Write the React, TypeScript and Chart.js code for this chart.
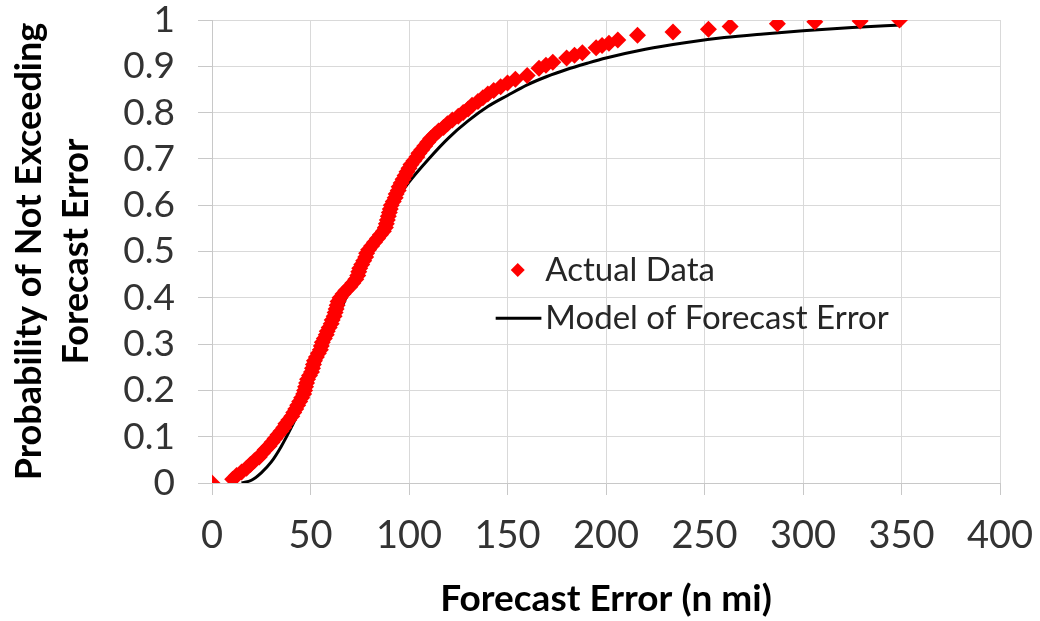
import { useEffect, useRef } from "react";
import { Chart, registerables } from "chart.js";

Chart.register(...registerables);

const actualX = [
  0, 10.5, 12.5, 15, 17.5, 19.5, 21.5, 24, 25.5, 27, 29, 30.5, 32, 33.5, 35, 36.5, 37.5, 39, 40.5, 41.5,
  42.5, 43.5, 44.5, 45.5, 46.5, 47, 47.5, 48, 48.5, 49.5, 50.5, 51, 51.5, 52, 53, 54, 55, 55.5, 56, 57,
  58, 58.5, 59.5, 60.5, 61, 62, 62.5, 63, 63.5, 64, 65, 66.5, 68, 70, 71.5, 73, 74, 74.5, 75, 76,
  77, 78, 78.5, 79.5, 81, 82.5, 84, 85.5, 87, 88, 88.5, 89, 89.5, 90, 90.5, 91, 92, 93, 93.5, 94.5,
  95, 96, 97, 98, 99, 100, 101, 102.5, 104, 105, 106.5, 108, 109.5, 111, 113, 115, 117.5, 119.5, 122, 125,
  127.5, 130, 132, 135, 137.5, 140, 143, 146.5, 150, 154, 160, 166, 169.5, 173, 180, 184, 188, 195, 198, 201.5,
  206, 216, 234, 252, 263, 287, 306, 329, 349,
];
const actualY = [
  0, 0.008, 0.016, 0.024, 0.032, 0.04, 0.048, 0.056, 0.064, 0.072, 0.08, 0.088, 0.096, 0.104, 0.112, 0.12, 0.128, 0.136, 0.144, 0.152,
  0.16, 0.168, 0.176, 0.184, 0.192, 0.2, 0.208, 0.216, 0.224, 0.232, 0.24, 0.248, 0.256, 0.264, 0.272, 0.28, 0.288, 0.296, 0.304, 0.312,
  0.32, 0.328, 0.336, 0.344, 0.352, 0.36, 0.368, 0.376, 0.384, 0.392, 0.4, 0.408, 0.416, 0.424, 0.432, 0.44, 0.448, 0.456, 0.464, 0.472,
  0.48, 0.488, 0.496, 0.504, 0.512, 0.52, 0.528, 0.536, 0.544, 0.552, 0.56, 0.568, 0.576, 0.584, 0.592, 0.6, 0.608, 0.616, 0.624, 0.632,
  0.64, 0.648, 0.656, 0.664, 0.672, 0.68, 0.688, 0.696, 0.704, 0.712, 0.72, 0.728, 0.736, 0.744, 0.752, 0.76, 0.768, 0.776, 0.784, 0.792,
  0.8, 0.808, 0.816, 0.824, 0.832, 0.84, 0.848, 0.856, 0.864, 0.872, 0.88, 0.896, 0.902, 0.909, 0.918, 0.924, 0.929, 0.94, 0.945, 0.95,
  0.957, 0.967, 0.974, 0.98, 0.986, 0.992, 0.996, 0.998, 1.0,
];

// Model of Forecast Error
const modelX = [15, 20, 25, 30, 35, 40, 45, 50, 55, 60, 65, 70, 75, 80, 85, 90, 95, 100, 110, 120, 130, 140, 150, 160, 170, 180, 190, 200, 220, 240, 260, 280, 300, 325, 350];
const modelY = [0, 0.006, 0.022, 0.045, 0.078, 0.118, 0.163, 0.212, 0.265, 0.318, 0.37, 0.42, 0.466, 0.51, 0.55, 0.587, 0.62, 0.65, 0.7, 0.745, 0.782, 0.813, 0.837, 0.86, 0.878, 0.893, 0.906, 0.918, 0.937, 0.951, 0.962, 0.97, 0.977, 0.984, 0.989];

const seriesNames = ["Actual Data", "Model of Forecast Error"];
const xTitle = "Forecast Error (n mi)";
const yTitle = ["Probability of Not Exceeding", "Forecast Error"];

const FONT = "Lato, 'Open Sans', sans-serif";
const RED = "#ff0000";
const TEXT = "#333333";

export default function App() {
  const ref = useRef<HTMLCanvasElement>(null);

  useEffect(() => {
    const legendPlugin = {
      id: "insideLegend",
      afterDraw(chart: any) {
        const { ctx, chartArea } = chart;
        const w = chartArea.right - chartArea.left;
        const h = chartArea.bottom - chartArea.top;
        const row1 = chartArea.top + 0.54 * h;
        const row2 = chartArea.top + 0.644 * h;
        const textX = chartArea.left + 0.423 * w;
        ctx.save();
        const mx = chartArea.left + 0.388 * w;
        const r = 7;
        ctx.fillStyle = RED;
        ctx.beginPath();
        ctx.moveTo(mx, row1 - r);
        ctx.lineTo(mx + r, row1);
        ctx.lineTo(mx, row1 + r);
        ctx.lineTo(mx - r, row1);
        ctx.closePath();
        ctx.fill();
        ctx.strokeStyle = "#000";
        ctx.lineWidth = 3;
        ctx.beginPath();
        ctx.moveTo(chartArea.left + 0.36 * w, row2);
        ctx.lineTo(chartArea.left + 0.418 * w, row2);
        ctx.stroke();
        ctx.fillStyle = "#262626";
        ctx.font = `33px ${FONT}`;
        ctx.textBaseline = "middle";
        ctx.textAlign = "left";
        ctx.fillText(seriesNames[0], textX, row1);
        ctx.fillText(seriesNames[1], textX, row2);
        ctx.restore();
      },
    };

    const chart = new Chart(ref.current!, {
      type: "scatter",
      data: {
        datasets: [
          {
            label: seriesNames[0],
            data: actualX.map((x, i) => ({ x, y: actualY[i] })),
            pointStyle: "rectRot",
            pointRadius: 8.5,
            pointBackgroundColor: RED,
            pointBorderWidth: 0,
            borderColor: RED,
            showLine: false,
          },
          {
            label: seriesNames[1],
            data: modelX.map((x, i) => ({ x, y: modelY[i] })),
            showLine: true,
            borderColor: "#000",
            borderWidth: 3,
            pointRadius: 0,
            cubicInterpolationMode: "monotone",
          },
        ],
      },
      options: {
        responsive: true,
        maintainAspectRatio: false,
        animation: false,
        layout: { padding: { top: 20, right: 40, left: 0, bottom: 0 } },
        plugins: { legend: { display: false }, tooltip: { enabled: false } },
        scales: {
          x: {
            type: "linear",
            min: 0,
            max: 400,
            ticks: { stepSize: 50, autoSkip: false, color: TEXT, font: { family: FONT, size: 38 }, padding: 18 },
            grid: { color: "#d9d9d9", lineWidth: 1, tickLength: 12, tickColor: "#c8c8c8" },
            border: { color: "#c8c8c8" },
            title: {
              display: true,
              text: xTitle,
              color: "#000",
              font: { family: FONT, size: 37, weight: "bold", lineHeight: 1.2 },
              padding: { top: 0, bottom: 0 },
            },
            afterFit(scale: any) {
              scale.height = 138;
              scale.paddingLeft = 0;
              scale.paddingRight = 0;
            },
          },
          y: {
            type: "linear",
            min: 0,
            max: 1,
            ticks: {
              stepSize: 0.1,
              autoSkip: false,
              color: TEXT,
              font: { family: FONT, size: 37 },
              padding: 23,
              callback: (v: any) => String(Number(Number(v).toFixed(1))),
            },
            grid: { color: "#d9d9d9", lineWidth: 1, tickLength: 14, tickColor: "#c8c8c8" },
            border: { color: "#c8c8c8" },
            title: {
              display: true,
              text: yTitle,
              color: "#000",
              font: { family: FONT, size: 36, weight: "bold", lineHeight: 1.3 },
              padding: { top: 6, bottom: 0 },
            },
            afterFit(scale: any) {
              scale.width = 212;
              scale.paddingTop = 0;
              scale.paddingBottom = 0;
            },
          },
        },
      },
      plugins: [legendPlugin],
    });
    return () => chart.destroy();
  }, []);

  return (
    <div style={{ position: "fixed", left: 0, top: 0, width: 1040, height: 621, background: "#fff" }}>
      <canvas ref={ref} />
    </div>
  );
}
